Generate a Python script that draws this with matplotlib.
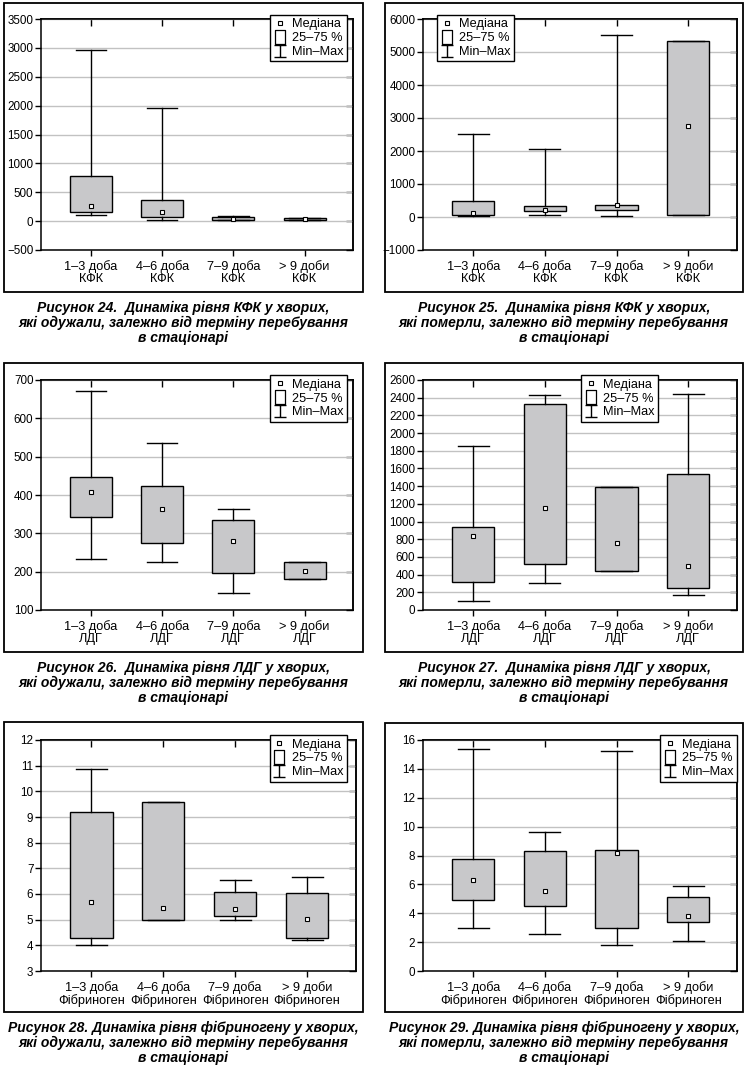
import numpy as np
import matplotlib.pyplot as plt
from matplotlib.patches import Rectangle
from matplotlib.lines import Line2D
from matplotlib.path import Path

plt.rcParams['font.family'] = ['Liberation Sans', 'DejaVu Sans']

periods = ['1–3 доба', '4–6 доба', '7–9 доба', '> 9 доби']

# КФК, recovered
kfk_alive_min = [99, 12, 17, 17]
kfk_alive_q1 = [151, 64, 17, 17]
kfk_alive_med = [262, 163, 45, 42]
kfk_alive_q3 = [779, 360, 75, 52]
kfk_alive_max = [2959, 1953, 92, 52]

# КФК, died
kfk_dead_min = [25, 60, 30, 50]
kfk_dead_q1 = [50, 182, 212, 50]
kfk_dead_med = [110, 212, 354, 2747]
kfk_dead_q3 = [485, 333, 364, 5333]
kfk_dead_max = [2515, 2060, 5525, 5333]

# ЛДГ, recovered
ldg_alive_min = [233, 226, 145, 181]
ldg_alive_q1 = [343, 275, 197, 181]
ldg_alive_med = [408, 363, 280, 201]
ldg_alive_q3 = [447, 423, 335, 226]
ldg_alive_max = [672, 535, 364, 226]

# ЛДГ, died
ldg_dead_min = [105, 307, 442, 172]
ldg_dead_q1 = [318, 521, 442, 251]
ldg_dead_med = [836, 1150, 753, 498]
ldg_dead_q3 = [937, 2330, 1386, 1540]
ldg_dead_max = [1858, 2432, 1386, 2443]

# fibrinogen, recovered
fib_alive_min = [4.0, 5.0, 5.0, 4.22]
fib_alive_q1 = [4.30, 5.0, 5.16, 4.30]
fib_alive_med = [5.68, 5.47, 5.40, 5.03]
fib_alive_q3 = [9.20, 9.59, 6.08, 6.04]
fib_alive_max = [10.86, 9.59, 6.53, 6.68]

# fibrinogen, died
fib_dead_min = [2.96, 2.59, 1.80, 2.06]
fib_dead_q1 = [4.90, 4.48, 2.96, 3.37]
fib_dead_med = [6.33, 5.56, 8.17, 3.79]
fib_dead_q3 = [7.74, 8.29, 8.36, 5.15]
fib_dead_max = [15.35, 9.60, 15.24, 5.87]

captions = [
    'Рисунок 24.  Динаміка рівня КФК у хворих,\nякі одужали, залежно від терміну перебування\nв стаціонарі',
    'Рисунок 25.  Динаміка рівня КФК у хворих,\nякі померли, залежно від терміну перебування\nв стаціонарі',
    'Рисунок 26.  Динаміка рівня ЛДГ у хворих,\nякі одужали, залежно від терміну перебування\nв стаціонарі',
    'Рисунок 27.  Динаміка рівня ЛДГ у хворих,\nякі померли, залежно від терміну перебування\nв стаціонарі',
    'Рисунок 28. Динаміка рівня фібриногену у хворих,\nякі одужали, залежно від терміну перебування\nв стаціонарі',
    'Рисунок 29. Динаміка рівня фібриногену у хворих,\nякі померли, залежно від терміну перебування\nв стаціонарі',
]

W, H = 748, 1072
fig = plt.figure(figsize=(W / 100, H / 100), dpi=100)

box_col = '#c8c8ca'
grid_col = '#c2c2c2'

# marker shapes for the legend
rect_path = Path([(-0.33, -0.5), (0.33, -0.5), (0.33, 0.5), (-0.33, 0.5), (-0.33, -0.5)])
ibar_path = Path([(-0.5, 0.5), (0.5, 0.5), (0, 0.5), (0, -0.5), (-0.5, -0.5), (0.5, -0.5)],
                 [Path.MOVETO, Path.LINETO, Path.MOVETO, Path.LINETO, Path.MOVETO, Path.LINETO])


def px_axes(l, t, r, b):
    return fig.add_axes([l / W, 1 - b / H, (r - l) / W, (b - t) / H])


def frame(x0, y0, x1, y1):
    fig.add_artist(Rectangle((x0 / W, 1 - y1 / H), (x1 - x0) / W, (y1 - y0) / H,
                             transform=fig.transFigure, fill=False, lw=1.3, ec='black'))


def draw_panel(ax, lo, q1, med, q3, hi, marker, yticks, leg_loc, leg_anchor):
    stats = [dict(whislo=a, q1=b, med=c, mean=c, q3=d, whishi=e)
             for a, b, c, d, e in zip(lo, q1, med, q3, hi)]
    pos = np.arange(1, len(stats) + 1)
    ax.bxp(stats, positions=pos, widths=0.59, capwidths=0.43, patch_artist=True,
           showfliers=False, showmeans=True,
           boxprops=dict(facecolor=box_col, edgecolor='black', linewidth=1.0),
           whiskerprops=dict(color='black', linewidth=1.0),
           capprops=dict(color='black', linewidth=1.0),
           medianprops=dict(linestyle='none'),
           meanprops=dict(marker='s', markersize=3.3, markerfacecolor='white',
                          markeredgecolor='black', markeredgewidth=0.8, zorder=4))
    ax.set_xlim(0.3, 4.68)
    ax.set_ylim(yticks[0], yticks[-1])
    ax.set_yticks(yticks)
    ax.set_xticks(pos)
    ax.set_xticklabels([f'{p}\n{marker}' for p in periods], fontsize=9.2, linespacing=1.05)
    ax.tick_params(axis='y', direction='out', length=4, width=1, pad=1.5, labelsize=8.4)
    ax.tick_params(axis='x', direction='out', length=4, width=1, pad=3)
    ax.yaxis.grid(True, color=grid_col, lw=1.0)
    ax.set_axisbelow(True)
    for s in ax.spines.values():
        s.set_linewidth(1.1)

    sy = ax.secondary_yaxis('right')
    sy.set_yticks(yticks)
    sy.tick_params(direction='in', length=5, width=1, labelright=False)
    sy.spines['right'].set_linewidth(1.1)
    sx = ax.secondary_xaxis('top')
    sx.set_xticks(pos)
    sx.tick_params(direction='in', length=5, width=1, labeltop=False)
    sx.spines['top'].set_linewidth(1.1)

    handles = [
        Line2D([], [], ls='none', marker='s', ms=3.3, mfc='white', mec='black', mew=0.8),
        Line2D([], [], ls='none', marker=rect_path, ms=10.5, mfc='white', mec='black', mew=0.9),
        Line2D([], [], ls='none', marker=ibar_path, ms=9, mfc='none', mec='black', mew=1.0),
    ]
    leg = ax.legend(handles, ['Медіана', '25–75 %', 'Min–Max'], loc=leg_loc,
                    bbox_to_anchor=leg_anchor, borderaxespad=0, fontsize=9.2,
                    fancybox=False, framealpha=1, edgecolor='black',
                    handlelength=1.0, handletextpad=0.5, labelspacing=0.15,
                    borderpad=0.25)
    leg.get_frame().set_linewidth(1.0)
    leg.set_zorder(10)


panels = [
    (kfk_alive_min, kfk_alive_q1, kfk_alive_med, kfk_alive_q3, kfk_alive_max, 'КФК',
     np.arange(-500, 3501, 500), 'upper right', (0.981, 1.017)),
    (kfk_dead_min, kfk_dead_q1, kfk_dead_med, kfk_dead_q3, kfk_dead_max, 'КФК',
     np.arange(-1000, 6001, 1000), 'upper left', (0.045, 1.017)),
    (ldg_alive_min, ldg_alive_q1, ldg_alive_med, ldg_alive_q3, ldg_alive_max, 'ЛДГ',
     np.arange(100, 701, 100), 'upper right', (0.981, 1.02)),
    (ldg_dead_min, ldg_dead_q1, ldg_dead_med, ldg_dead_q3, ldg_dead_max, 'ЛДГ',
     np.arange(0, 2601, 200), 'upper left', (0.503, 1.02)),
    (fib_alive_min, fib_alive_q1, fib_alive_med, fib_alive_q3, fib_alive_max, 'Фібриноген',
     np.arange(3, 13, 1), 'upper right', (0.971, 1.02)),
    (fib_dead_min, fib_dead_q1, fib_dead_med, fib_dead_q3, fib_dead_max, 'Фібриноген',
     np.arange(0, 17, 2), 'upper right', (1.0, 1.02)),
]

# pixel layout: axes box, outer frame, caption centre
axes_px = [(41, 19, 353, 250), (423, 19, 737, 250),
           (41, 380, 353, 610), (423, 380, 737, 610),
           (41, 740, 356, 971), (423, 740, 737, 971)]
frames_px = [(4, 3, 363, 292), (385, 3, 743, 292),
             (4, 363, 363, 652), (385, 363, 743, 652),
             (4, 722, 363, 1012), (385, 723, 743, 1012)]
caption_y = [323, 323, 683, 683, 1043, 1043]

for i, p in enumerate(panels):
    ax = px_axes(*axes_px[i])
    draw_panel(ax, *p)
    frame(*frames_px[i])
    fx0, _, fx1, _ = frames_px[i]
    fig.text((fx0 + fx1) / 2 / W, 1 - caption_y[i] / H, captions[i],
             ha='center', va='center', fontsize=10, fontweight='bold', fontstyle='italic',
             linespacing=1.05)

fig.savefig('out.png', dpi=100)
